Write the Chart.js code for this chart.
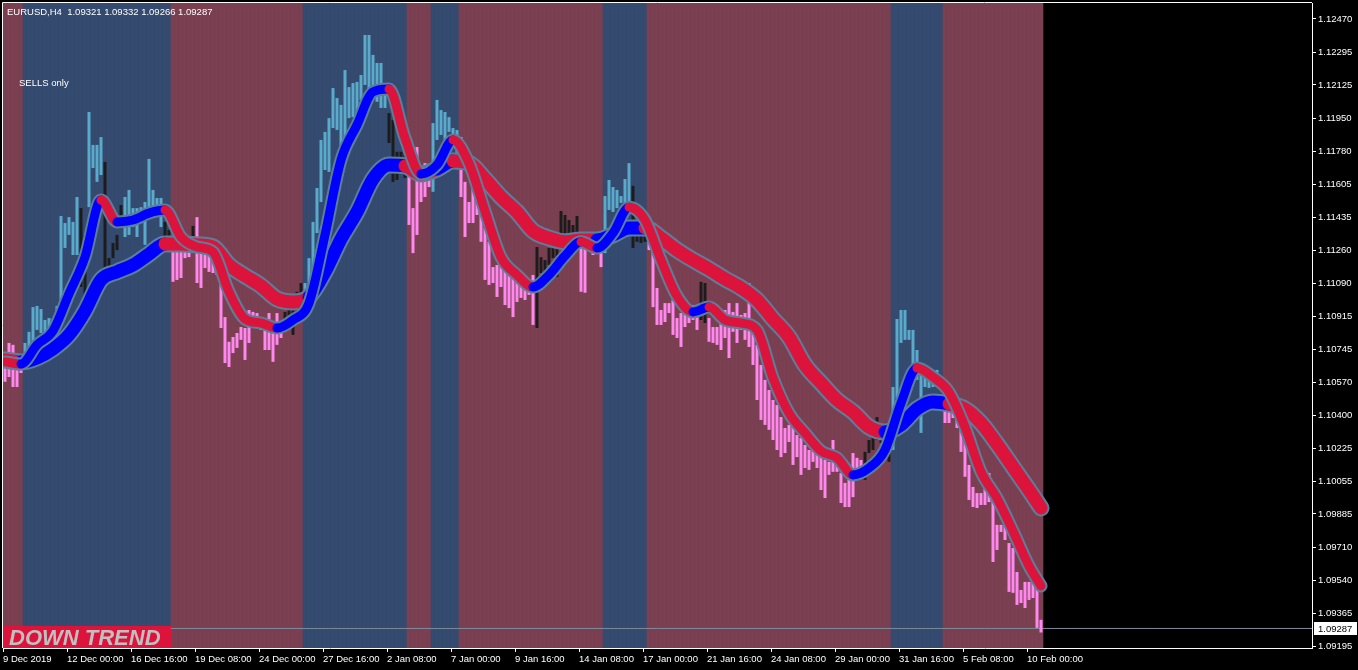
<!DOCTYPE html>
<html>
<head>
<meta charset="utf-8">
<script src="https://cdn.jsdelivr.net/npm/chart.js@4.4.1/dist/chart.umd.min.js"></script>
<style>
  html, body { margin: 0; padding: 0; background: #000; overflow: hidden; }
  canvas { display: block; }
</style>
</head>
<body>
<canvas id="chart" width="1358" height="670"></canvas>
<script>
// EURUSD H4, 260 bars (index 0 = 9 Dec 2019 00:00)
const highs = [
  1.10652, 1.10778, 1.10768, 1.10679, 1.10663, 1.10778, 1.10836, 1.10965, 1.10971, 1.10955,
  1.10898, 1.10908, 1.10903, 1.10971, 1.11441, 1.11404, 1.11435, 1.11410, 1.11540, 1.11482,
  1.11342, 1.11984, 1.11812, 1.11812, 1.11853, 1.11723, 1.11221, 1.11300, 1.11342, 1.11498,
  1.11540, 1.11577, 1.11482, 1.11482, 1.11487, 1.11514, 1.11739, 1.11577, 1.11535, 1.11535,
  1.11410, 1.11368, 1.11290, 1.11263, 1.11253, 1.11290, 1.11326, 1.11389, 1.11435, 1.11263,
  1.11279, 1.11237, 1.11211, 1.11195, 1.11122, 1.10913, 1.10784, 1.10809, 1.10830, 1.10861,
  1.10856, 1.10950, 1.10940, 1.10934, 1.10908, 1.10882, 1.10934, 1.10846, 1.10934, 1.10882,
  1.10940, 1.10950, 1.11002, 1.11045, 1.11091, 1.11091, 1.11221, 1.11410, 1.11587, 1.11838,
  1.11880, 1.11952, 1.12109, 1.12057, 1.12021, 1.12203, 1.12114, 1.12135, 1.12141, 1.12177,
  1.12386, 1.12386, 1.12282, 1.12240, 1.12240, 1.12125, 1.11978, 1.11942, 1.11776, 1.11776,
  1.11760, 1.11696, 1.11482, 1.11801, 1.11665, 1.11717, 1.11691, 1.11926, 1.12047, 1.11994,
  1.11984, 1.11957, 1.11900, 1.11890, 1.11853, 1.11619, 1.11514, 1.11592, 1.11613, 1.11456,
  1.11378, 1.11306, 1.11174, 1.11185, 1.11185, 1.11169, 1.11149, 1.11122, 1.11117, 1.11091,
  1.11081, 1.11070, 1.11133, 1.11279, 1.11226, 1.11211, 1.11274, 1.11358, 1.11274, 1.11467,
  1.11446, 1.11420, 1.11394, 1.11441, 1.11352, 1.11316, 1.11347, 1.11306, 1.11300, 1.11300,
  1.11545, 1.11629, 1.11592, 1.11577, 1.11545, 1.11634, 1.11717, 1.11598, 1.11342, 1.11337,
  1.11342, 1.11383, 1.11326, 1.11065, 1.10950, 1.10986, 1.10986, 1.11002, 1.10908, 1.10934,
  1.10950, 1.10934, 1.10976, 1.10950, 1.11097, 1.11091, 1.10908, 1.10861, 1.10861, 1.10924,
  1.10950, 1.10986, 1.10940, 1.10986, 1.10924, 1.10934, 1.11091, 1.10898, 1.10768, 1.10663,
  1.10585, 1.10532, 1.10480, 1.10454, 1.10391, 1.10334, 1.10350, 1.10339, 1.10297, 1.10282,
  1.10245, 1.10219, 1.10219, 1.10203, 1.10193, 1.10167, 1.10157, 1.10271, 1.10141, 1.10099,
  1.10047, 1.10063, 1.10203, 1.10178, 1.10167, 1.10209, 1.10271, 1.10376, 1.10391, 1.10276,
  1.10271, 1.10256, 1.10548, 1.10903, 1.10950, 1.10950, 1.10846, 1.10846, 1.10741, 1.10637,
  1.10637, 1.10627, 1.10637, 1.10637, 1.10480, 1.10438, 1.10438, 1.10454, 1.10428, 1.10391,
  1.10360, 1.10141, 1.10026, 1.09994, 1.09994, 1.10063, 1.10099, 1.10021, 1.09828, 1.09828,
  1.09854, 1.09733, 1.09707, 1.09582, 1.09488, 1.09530, 1.09530, 1.09577, 1.09525, 1.09332
];
const lows = [
  1.10575, 1.10600, 1.10548, 1.10548, 1.10621, 1.10652, 1.10757, 1.10778, 1.10846, 1.10830,
  1.10794, 1.10856, 1.10809, 1.10861, 1.10882, 1.11274, 1.11342, 1.11237, 1.11237, 1.11070,
  1.11018, 1.11487, 1.11691, 1.11619, 1.11655, 1.11159, 1.11169, 1.11221, 1.11263, 1.11378,
  1.11331, 1.11342, 1.11383, 1.11331, 1.11430, 1.11290, 1.11456, 1.11472, 1.11462, 1.11383,
  1.11331, 1.11279, 1.11097, 1.11107, 1.11117, 1.11221, 1.11226, 1.11263, 1.11091, 1.11065,
  1.11169, 1.11149, 1.11143, 1.11133, 1.10856, 1.10673, 1.10652, 1.10725, 1.10752, 1.10794,
  1.10689, 1.10778, 1.10898, 1.10856, 1.10846, 1.10741, 1.10741, 1.10679, 1.10768, 1.10804,
  1.10872, 1.10882, 1.10820, 1.10934, 1.10965, 1.11018, 1.11070, 1.11143, 1.11352, 1.11514,
  1.11681, 1.11671, 1.11900, 1.11890, 1.11801, 1.11853, 1.11952, 1.11957, 1.11978, 1.12047,
  1.12125, 1.12099, 1.12083, 1.12037, 1.12005, 1.12005, 1.11822, 1.11619, 1.11629, 1.11733,
  1.11639, 1.11394, 1.11247, 1.11342, 1.11514, 1.11540, 1.11592, 1.11567, 1.11838, 1.11864,
  1.11838, 1.11880, 1.11828, 1.11770, 1.11540, 1.11331, 1.11404, 1.11404, 1.11446, 1.11306,
  1.11107, 1.11081, 1.11091, 1.11018, 1.11070, 1.10976, 1.10960, 1.10913, 1.10992, 1.11013,
  1.11002, 1.11029, 1.10872, 1.10856, 1.11143, 1.11097, 1.11185, 1.11221, 1.11122, 1.11279,
  1.11316, 1.11342, 1.11331, 1.11331, 1.11045, 1.11040, 1.11306, 1.11237, 1.11247, 1.11174,
  1.11247, 1.11472, 1.11462, 1.11482, 1.11509, 1.11472, 1.11498, 1.11274, 1.11306, 1.11300,
  1.11306, 1.11263, 1.10965, 1.10872, 1.10872, 1.10887, 1.10934, 1.10820, 1.10804, 1.10757,
  1.10861, 1.10882, 1.10898, 1.10846, 1.10898, 1.10882, 1.10784, 1.10778, 1.10768, 1.10741,
  1.10804, 1.10699, 1.10836, 1.10778, 1.10846, 1.10794, 1.10757, 1.10663, 1.10480, 1.10376,
  1.10350, 1.10324, 1.10271, 1.10219, 1.10182, 1.10203, 1.10261, 1.10141, 1.10182, 1.10089,
  1.10125, 1.10115, 1.10157, 1.10125, 1.10010, 1.09968, 1.10089, 1.10105, 1.10105, 1.09942,
  1.09921, 1.09921, 1.09973, 1.10079, 1.10105, 1.10063, 1.10203, 1.10219, 1.10271, 1.10256,
  1.10235, 1.10157, 1.10219, 1.10490, 1.10778, 1.10794, 1.10794, 1.10575, 1.10585, 1.10308,
  1.10548, 1.10543, 1.10548, 1.10548, 1.10428, 1.10360, 1.10360, 1.10386, 1.10334, 1.10209,
  1.10079, 1.09958, 1.09921, 1.09916, 1.09932, 1.09932, 1.09947, 1.09634, 1.09697, 1.09791,
  1.09749, 1.09478, 1.09473, 1.09410, 1.09420, 1.09394, 1.09436, 1.09446, 1.09290, 1.09266
];

// histogram colour state per bar, as runs: [state, bar count]
const barStateRuns = [
  ['down', 5], ['up', 14], ['flat', 2], ['up', 4], ['flat', 5], ['up', 10], ['flat', 2],
  ['down', 5], ['flat', 1], ['down', 22], ['flat', 5], ['up', 21], ['flat', 5], ['down', 6],
  ['up', 7], ['down', 19], ['flat', 11], ['down', 6], ['up', 7], ['flat', 4], ['down', 13],
  ['flat', 2], ['down', 39], ['flat', 7], ['up', 12], ['flat', 1], ['down', 25]
];

// background trend zones (first bar of each zone)
const zoneStart = [0, 5, 42, 75, 101, 107, 114, 150, 161, 222, 235];
const zoneTrend = ['down', 'up', 'down', 'up', 'down', 'up', 'down', 'up', 'down', 'up', 'down'];

// moving averages, read every 4 bars
const maBars = [
  0, 4, 8, 12, 16, 20, 24, 28, 32, 36, 40, 44, 48, 52, 56, 60, 64, 68, 72, 76, 80, 84,
  88, 92, 96, 100, 104, 108, 112, 116, 120, 124, 128, 132, 136, 140, 144, 148, 152, 156,
  160, 164, 168, 172, 176, 180, 184, 188, 192, 196, 200, 204, 208, 212, 216, 220, 224,
  228, 232, 236, 240, 244, 248, 252, 256, 259
];
const fastMA = [
  1.10679, 1.10668, 1.10768, 1.10841, 1.11034, 1.11226, 1.11524, 1.11410, 1.11420, 1.11456, 1.11472,
  1.11331, 1.11279, 1.11253, 1.11045, 1.10903, 1.10882, 1.10856, 1.10898, 1.10986, 1.11342, 1.11733,
  1.11916, 1.12089, 1.12104, 1.11848, 1.11660, 1.11707, 1.11838, 1.11717, 1.11467, 1.11226, 1.11133,
  1.11070, 1.11133, 1.11232, 1.11306, 1.11274, 1.11352, 1.11487, 1.11420, 1.11211, 1.11023, 1.10940,
  1.10965, 1.10898, 1.10882, 1.10846, 1.10595, 1.10412, 1.10308, 1.10214, 1.10178, 1.10089, 1.10125,
  1.10219, 1.10464, 1.10647, 1.10600, 1.10522, 1.10339, 1.10105, 1.09968, 1.09796, 1.09614, 1.09509
];
const slowMA = [
  1.10689, 1.10679, 1.10700, 1.10747, 1.10820, 1.10945, 1.11107, 1.11149, 1.11185, 1.11242, 1.11295,
  1.11295, 1.11290, 1.11279, 1.11185, 1.11128, 1.11076, 1.11008, 1.10992, 1.11018, 1.11149, 1.11321,
  1.11462, 1.11634, 1.11707, 1.11702, 1.11660, 1.11686, 1.11728, 1.11717, 1.11634, 1.11540, 1.11462,
  1.11363, 1.11326, 1.11306, 1.11316, 1.11316, 1.11342, 1.11378, 1.11378, 1.11326, 1.11263, 1.11211,
  1.11164, 1.11112, 1.11065, 1.11002, 1.10903, 1.10809, 1.10663, 1.10569, 1.10480, 1.10418, 1.10339,
  1.10313, 1.10350, 1.10433, 1.10470, 1.10459, 1.10433, 1.10360, 1.10250, 1.10130, 1.10010, 1.09916
];

const lastPrice = 1.09287;
const header = 'EURUSD,H4  1.09321 1.09332 1.09266 1.09287';

const priceTicks = [
  1.12470, 1.12295, 1.12125, 1.11950, 1.11780, 1.11605, 1.11435, 1.11260, 1.11090, 1.10915,
  1.10745, 1.10570, 1.10400, 1.10225, 1.10055, 1.09885, 1.09710, 1.09540, 1.09365, 1.09195
];
const dateTickBars = [0, 16, 32, 48, 64, 80, 96, 112, 128, 144, 160, 176, 192, 208, 224, 240, 256];
const dateLabels = [
  '9 Dec 2019', '12 Dec 00:00', '16 Dec 16:00', '19 Dec 08:00', '24 Dec 00:00', '27 Dec 16:00',
  '2 Jan 08:00', '7 Jan 00:00', '9 Jan 16:00', '14 Jan 08:00', '17 Jan 00:00', '21 Jan 16:00',
  '24 Jan 08:00', '29 Jan 00:00', '31 Jan 16:00', '5 Feb 08:00', '10 Feb 00:00'
];

const Y_MIN = 1.09185, Y_MAX = 1.12553;
const X_MIN = -0.5, X_MAX = 326.75;

const ZONE_COL = { up: '#344a6e', down: '#7a4052' };
const BAR_COL = { up: '#5aaacb', down: '#ff88ee', flat: '#1c1c1c' };
const MA_UP = '#0000ff', MA_DOWN = '#dc143c', MA_EDGE = '#5b7f9b';
const FONT = '"Liberation Sans", Arial, sans-serif';

function zoneAt(i) {
  let t = zoneTrend[0];
  zoneStart.forEach((s, k) => { if (i >= s) t = zoneTrend[k]; });
  return t;
}

const barState = [];
barStateRuns.forEach(([s, n]) => { for (let k = 0; k < n; k++) barState.push(s); });

const barIdx = highs.map((_, i) => i);

const zoneData = barIdx.map(i => ({ x: i, y: [Y_MIN, Y_MAX] }));
const zoneColors = barIdx.map(i => ZONE_COL[zoneAt(i)]);
const barData = barIdx.map(i => ({ x: i, y: [lows[i], highs[i]] }));
const barColors = barIdx.map(i => BAR_COL[barState[i]]);

const fastPts = maBars.map((b, k) => ({ x: b, y: fastMA[k] }));
const slowPts = maBars.map((b, k) => ({ x: b, y: slowMA[k] }));

const lineBase = {
  type: 'line',
  pointRadius: 0,
  cubicInterpolationMode: 'monotone',
  borderCapStyle: 'round',
  borderJoinStyle: 'round',
  fill: false
};

const overlay = {
  id: 'overlay',
  afterDraw(chart) {
    const c = chart.ctx;
    const area = chart.chartArea;
    const yPx = chart.scales.y.getPixelForValue(lastPrice);
    c.save();

    // frame on the left and top
    c.strokeStyle = '#ffffff';
    c.lineWidth = 1;
    c.beginPath();
    c.moveTo(2.5, area.bottom);
    c.lineTo(2.5, 2.5);
    c.lineTo(area.right, 2.5);
    c.stroke();

    // last price label
    c.fillStyle = '#ffffff';
    c.fillRect(area.right + 2, Math.round(yPx) - 6, 43, 13);
    c.fillStyle = '#000000';
    c.font = '9.5px ' + FONT;
    c.textBaseline = 'middle';
    c.textAlign = 'left';
    c.fillText(lastPrice.toFixed(5), area.right + 6, Math.round(yPx) + 1);

    // texts
    c.fillStyle = '#ffffff';
    c.fillText(header, 7, 12);
    c.fillText('SELLS only', 19, 83);

    // trend box
    c.fillStyle = '#dc143c';
    c.fillRect(3, 626, 168, area.bottom - 626);
    c.fillStyle = '#c0c0c0';
    c.font = 'italic bold 22px ' + FONT;
    c.textBaseline = 'alphabetic';
    c.fillText('DOWN TREND', 9, 645);
    c.restore();
  }
};

new Chart(document.getElementById('chart'), {
  type: 'bar',
  data: {
    datasets: [
      Object.assign({}, lineBase, {
        label: 'fast',
        data: fastPts,
        borderWidth: 9,
        borderColor: MA_DOWN,
        segment: { borderColor: ctx => ctx.p1.parsed.y > ctx.p0.parsed.y ? MA_UP : MA_DOWN },
        order: 1
      }),
      Object.assign({}, lineBase, {
        label: 'fast edge',
        data: fastPts,
        borderWidth: 13,
        borderColor: MA_EDGE,
        order: 2
      }),
      Object.assign({}, lineBase, {
        label: 'slow',
        data: slowPts,
        borderWidth: 13,
        borderColor: MA_DOWN,
        segment: {
          borderColor: ctx => zoneAt(Math.round((ctx.p0.parsed.x + ctx.p1.parsed.x) / 2)) === 'up' ? MA_UP : MA_DOWN
        },
        order: 3
      }),
      Object.assign({}, lineBase, {
        label: 'slow edge',
        data: slowPts,
        borderWidth: 17,
        borderColor: MA_EDGE,
        order: 4
      }),
      {
        type: 'bar',
        label: 'bars',
        data: barData,
        backgroundColor: barColors,
        borderWidth: 0,
        grouped: false,
        barPercentage: 0.75,
        categoryPercentage: 1,
        order: 5
      },
      {
        type: 'line',
        label: 'last',
        data: [{ x: X_MIN, y: lastPrice }, { x: X_MAX, y: lastPrice }],
        borderColor: '#7d8c9b',
        borderWidth: 1,
        pointRadius: 0,
        order: 6
      },
      {
        type: 'bar',
        label: 'zones',
        data: zoneData,
        backgroundColor: zoneColors,
        borderWidth: 0,
        grouped: false,
        barPercentage: 1,
        categoryPercentage: 1,
        order: 7
      }
    ]
  },
  options: {
    responsive: false,
    animation: false,
    devicePixelRatio: 1,
    layout: { padding: { left: 3, top: 3, right: 0, bottom: 0 } },
    plugins: { legend: { display: false }, tooltip: { enabled: false } },
    scales: {
      x: {
        type: 'linear',
        min: X_MIN,
        max: X_MAX,
        offset: false,
        grid: { display: true, drawOnChartArea: false, tickLength: 4, color: '#ffffff', offset: false },
        border: { display: true, color: '#ffffff', width: 1 },
        ticks: {
          color: '#ffffff',
          font: { family: FONT, size: 9.5 },
          align: 'start',
          padding: 2,
          autoSkip: false,
          maxRotation: 0,
          minRotation: 0,
          callback: (v, idx) => dateLabels[idx]
        },
        // a date tick marks the opening edge of its bar
        afterBuildTicks: s => { s.ticks = dateTickBars.map(v => ({ value: v - 0.5 })); },
        afterFit: s => { s.height = 22; s.paddingLeft = 0; s.paddingRight = 0; }
      },
      y: {
        type: 'linear',
        position: 'right',
        min: Y_MIN,
        max: Y_MAX,
        grid: { display: true, drawOnChartArea: false, tickLength: 4, color: '#ffffff' },
        border: { display: true, color: '#ffffff', width: 1 },
        ticks: {
          color: '#ffffff',
          font: { family: FONT, size: 9.5 },
          padding: 2,
          autoSkip: false,
          callback: v => v.toFixed(5)
        },
        afterBuildTicks: s => { s.ticks = priceTicks.map(v => ({ value: v })); },
        afterFit: s => { s.width = 46; s.paddingTop = 0; s.paddingBottom = 0; }
      }
    }
  },
  plugins: [overlay]
});
</script>
</body>
</html>
